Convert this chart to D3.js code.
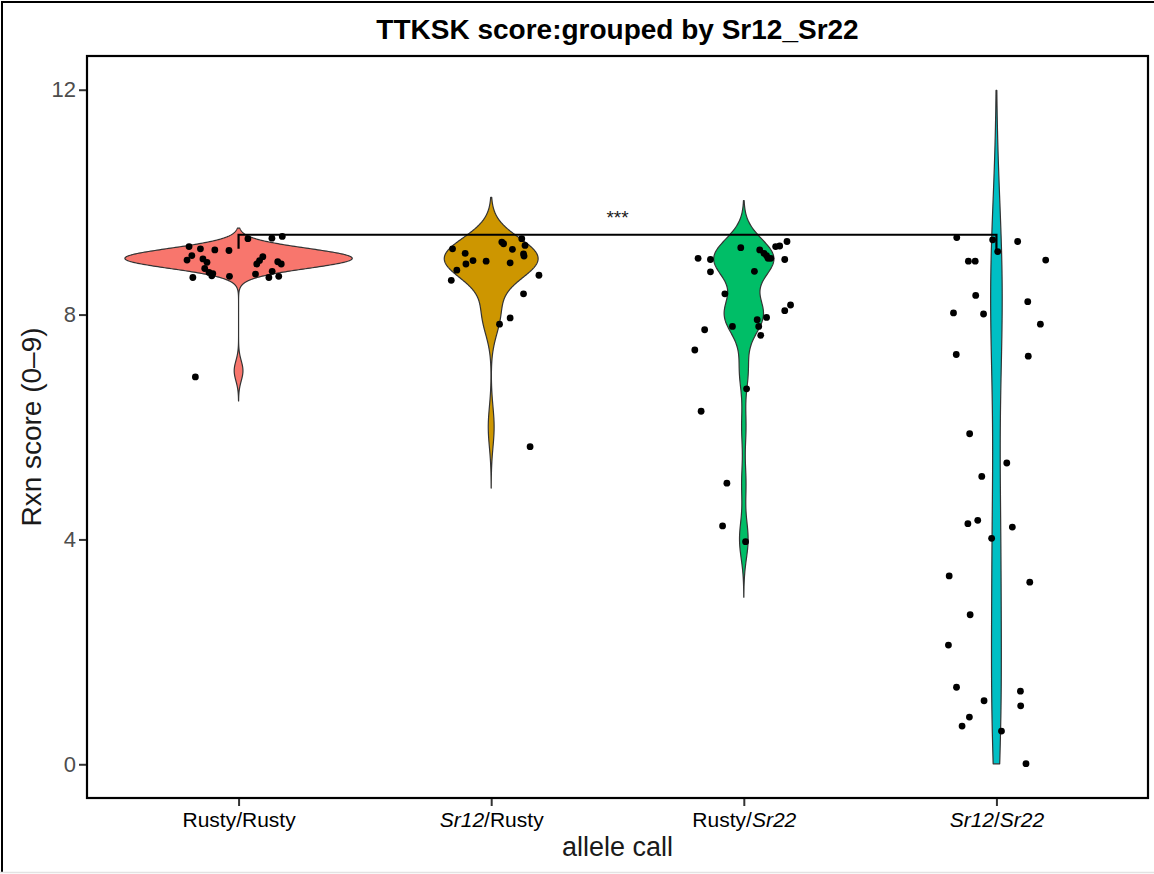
<!DOCTYPE html>
<html>
<head>
<meta charset="utf-8">
<script src="https://cdn.jsdelivr.net/npm/d3@7"></script>
<style>
  html, body { margin: 0; padding: 0; background: #ffffff; }
  svg { display: block; }
  text { font-family: "Liberation Sans", Arial, Helvetica, sans-serif; }
</style>
</head>
<body>
<svg id="chart" width="1154" height="874"></svg>
<script>
// ---- data -------------------------------------------------------------
const categories = ["Rusty/Rusty", "Sr12/Rusty", "Rusty/Sr22", "Sr12/Sr22"];

// tick label pieces: [text, italic]
const tickLabelParts = [
  [["Rusty/Rusty", false]],
  [["Sr12", true], ["/Rusty", false]],
  [["Rusty/", false], ["Sr22", true]],
  [["Sr12", true], ["/", false], ["Sr22", true]]
];

const fillColors = ["#F8766D", "#CD9600", "#00BE67", "#00BFC4"];

// reaction scores (0-9 scale) per allele call
const scoresRustyRusty = [9,9,9,9,9,9,9,9,9,9,9,9,9,9,9,9,9,9,9,9,9,9,9,9,9,9,7];
const scoresSr12Rusty  = [9,9,9,9,9,9,9,9,9,9,9,9,9,9,9,9,8,8,8,6];
const scoresRustySr22  = [9,9,9,9,9,9,9,9,9,9,9,9,9,9,8,8,8,8,8,8,8,8,8,7,7,6,5,4,4];
const scoresSr12Sr22   = [9,9,9,9,9,9,9,8,8,8,8,8,7,7,6,5,5,4,4,4,4,3,3,3,2,1,1,1,1,1,1,1,0];

// jittered observations: [horizontal offset in category units, score]
const jitterRustyRusty = [
  [-0.196,9.21],[-0.151,9.17],[-0.094,9.15],[-0.038,9.14],[0.037,9.35],[0.132,9.36],
  [0.173,9.39],[-0.185,9.05],[-0.204,8.97],[-0.141,8.99],[-0.125,8.93],[-0.134,8.82],
  [-0.117,8.75],[-0.102,8.73],[-0.106,8.69],[-0.181,8.66],[-0.036,8.68],[0.096,9.03],
  [0.083,8.96],[0.072,8.90],[0.067,8.72],[0.120,8.66],[0.133,8.77],[0.155,8.94],
  [0.169,8.90],[0.159,8.68],[-0.171,6.89]
];
const jitterSr12Rusty = [
  [-0.153,9.17],[-0.103,9.09],[-0.100,8.90],[-0.072,8.96],[-0.020,8.95],[-0.136,8.79],
  [-0.158,8.61],[0.042,9.29],[0.049,9.26],[0.084,9.16],[0.121,9.35],[0.134,9.23],
  [0.128,9.08],[0.130,9.04],[0.075,8.92],[0.189,8.70],[0.128,8.37],[0.075,7.94],
  [0.033,7.83],[0.154,5.65]
];
const jitterRustySr22 = [
  [-0.012,9.19],[0.063,9.15],[0.080,9.09],[0.090,9.05],[0.096,9.00],[0.107,9.00],
  [0.126,9.21],[0.142,9.22],[0.171,9.30],[0.162,8.98],[-0.181,9.00],[-0.132,8.98],
  [-0.132,8.76],[0.042,8.77],[-0.075,8.37],[0.185,8.17],[0.162,8.07],[0.090,7.95],
  [0.053,7.91],[0.059,7.79],[-0.045,7.79],[0.067,7.63],[-0.155,7.73],[-0.194,7.37],
  [0.011,6.68],[-0.169,6.28],[-0.067,5.00],[-0.084,4.24],[0.007,3.96]
];
const jitterSr12Sr22 = [
  [-0.157,9.37],[-0.015,9.33],[0.005,9.12],[0.084,9.30],[-0.111,8.95],[-0.084,8.95],
  [0.195,8.97],[-0.082,8.34],[-0.170,8.03],[-0.051,8.01],[0.124,8.23],[0.174,7.83],
  [-0.159,7.29],[0.126,7.26],[-0.106,5.88],[0.041,5.36],[-0.058,5.12],[-0.113,4.28],
  [-0.074,4.34],[0.063,4.22],[-0.019,4.02],[-0.187,3.35],[0.132,3.24],[-0.104,2.66],
  [-0.190,2.12],[-0.158,1.37],[0.095,1.30],[-0.049,1.13],[0.096,1.04],[-0.107,0.84],
  [-0.136,0.68],[0.020,0.59],[0.117,0.01]
];

const yTicks = [0, 4, 8, 12];
const scoreLimits = [0, 12];

// significance bracket between the two homozygous classes
const signifPair = ["Rusty/Rusty", "Sr12/Sr22"];
const signifY = 9.42;
const signifTipEnds = [9.17, 9.10];
const signifLabel = "***";

const titleText = "TTKSK score:grouped by Sr12_Sr22";
const xTitle = "allele call";
const yTitle = "Rxn score (0\u20139)";

// ---- layout -----------------------------------------------------------
const W = 1154, H = 874;
const panel = { left: 87, right: 1148, top: 56, bottom: 798 };

const svg = d3.select("#chart");

const xScale = d3.scalePoint()
  .domain(categories)
  .range([panel.left, panel.right])
  .padding(0.6);

const yScale = d3.scaleLinear()
  .domain([scoreLimits[0] - 0.6, scoreLimits[1] + 0.6])
  .range([panel.bottom, panel.top]);

const step = xScale.step();

// ---- kernel density (gaussian, nrd0 bandwidth, untrimmed) -------------
function bwNrd0(x) {
  const hi = d3.deviation(x);
  const s = x.slice().sort(d3.ascending);
  const iqr = d3.quantileSorted(s, 0.75) - d3.quantileSorted(s, 0.25);
  let lo = Math.min(hi, iqr / 1.34);
  if (!lo) lo = hi || Math.abs(x[0]) || 1;
  return 0.9 * lo * Math.pow(x.length, -0.2);
}

function densityProfile(x) {
  const bw = bwNrd0(x);
  const lo = d3.min(x) - 3 * bw, hi = d3.max(x) + 3 * bw;
  const n = 512;
  const out = [];
  const norm = 1 / (x.length * bw * Math.sqrt(2 * Math.PI));
  for (let i = 0; i < n; i++) {
    const y = lo + (hi - lo) * i / (n - 1);
    let s = 0;
    for (const v of x) { const z = (y - v) / bw; s += Math.exp(-0.5 * z * z); }
    out.push({ y, d: s * norm });
  }
  // values outside the score scale limits are dropped
  return out.filter(p => p.y >= scoreLimits[0] && p.y <= scoreLimits[1]);
}

const groups = [
  { cat: categories[0], scores: scoresRustyRusty, pts: jitterRustyRusty, fill: fillColors[0] },
  { cat: categories[1], scores: scoresSr12Rusty,  pts: jitterSr12Rusty,  fill: fillColors[1] },
  { cat: categories[2], scores: scoresRustySr22,  pts: jitterRustySr22,  fill: fillColors[2] },
  { cat: categories[3], scores: scoresSr12Sr22,   pts: jitterSr12Sr22,   fill: fillColors[3] }
];
groups.forEach(g => { g.profile = densityProfile(g.scores); });
const maxDensity = d3.max(groups, g => d3.max(g.profile, p => p.d));
const halfWidth = d3.scaleLinear().domain([0, maxDensity]).range([0, 0.45 * step]);

// ---- outer frame ------------------------------------------------------
svg.append("rect").attr("x", 0).attr("y", 0).attr("width", W).attr("height", H).attr("fill", "#ffffff");
svg.append("line").attr("x1", 2).attr("x2", 2).attr("y1", 1).attr("y2", H - 2)
  .attr("stroke", "#000").attr("stroke-width", 2);
svg.append("line").attr("x1", 1).attr("x2", W).attr("y1", 2).attr("y2", 2)
  .attr("stroke", "#000").attr("stroke-width", 2);
svg.append("line").attr("x1", 0).attr("x2", W).attr("y1", H - 1.5).attr("y2", H - 1.5)
  .attr("stroke", "#e3e3e3").attr("stroke-width", 1.5);

// ---- violins ----------------------------------------------------------
const gV = svg.append("g");
groups.forEach(g => {
  const cx = xScale(g.cat);
  const a = d3.area()
    .y(p => yScale(p.y))
    .x0(p => cx - halfWidth(p.d))
    .x1(p => cx + halfWidth(p.d));
  gV.append("path")
    .attr("d", a(g.profile))
    .attr("fill", g.fill)
    .attr("stroke", "#333333")
    .attr("stroke-width", 1.2)
    .attr("stroke-linejoin", "round");
});

// ---- jittered points --------------------------------------------------
const gP = svg.append("g");
groups.forEach(g => {
  const cx = xScale(g.cat);
  gP.selectAll(null).data(g.pts).enter().append("circle")
    .attr("cx", d => cx + d[0] * step)
    .attr("cy", d => yScale(d[1]))
    .attr("r", 3.4)
    .attr("fill", "#000");
});

// ---- significance bracket ---------------------------------------------
const bx1 = xScale(signifPair[0]), bx2 = xScale(signifPair[1]);
svg.append("path")
  .attr("d", `M${bx1},${yScale(signifTipEnds[0])}V${yScale(signifY)}H${bx2}V${yScale(signifTipEnds[1])}`)
  .attr("fill", "none").attr("stroke", "#000").attr("stroke-width", 2.2);
svg.append("text")
  .attr("x", (bx1 + bx2) / 2)
  .attr("y", yScale(signifY) - 11)
  .attr("text-anchor", "middle")
  .attr("font-size", 19)
  .attr("fill", "#1a1a1a")
  .text(signifLabel);

// ---- panel border -----------------------------------------------------
svg.append("rect")
  .attr("x", panel.left).attr("y", panel.top)
  .attr("width", panel.right - panel.left).attr("height", panel.bottom - panel.top)
  .attr("fill", "none").attr("stroke", "#000").attr("stroke-width", 2.2);

// ---- axes -------------------------------------------------------------
const yAxis = svg.append("g")
  .attr("transform", `translate(${panel.left - 1},0)`)
  .call(d3.axisLeft(yScale).tickValues(yTicks).tickSize(7).tickPadding(3).tickFormat(d3.format("d")));
yAxis.select(".domain").remove();
yAxis.selectAll(".tick line").attr("stroke", "#333").attr("stroke-width", 2);
yAxis.selectAll(".tick text")
  .attr("font-size", 22).attr("fill", "#4d4d4d")
  .attr("font-family", "'Liberation Sans', Arial, sans-serif");

const xAxis = svg.append("g")
  .attr("transform", `translate(0,${panel.bottom + 1})`)
  .call(d3.axisBottom(xScale).tickSize(7).tickPadding(6));
xAxis.select(".domain").remove();
xAxis.selectAll(".tick line").attr("stroke", "#333").attr("stroke-width", 2);
xAxis.selectAll(".tick text")
  .attr("font-size", 21).attr("fill", "#000")
  .attr("font-family", "'Liberation Sans', Arial, sans-serif")
  .each(function (d, i) {
    const t = d3.select(this);
    t.text(null);
    tickLabelParts[i].forEach(([s, it]) => {
      t.append("tspan").attr("font-style", it ? "italic" : "normal").text(s);
    });
  });

// ---- titles -----------------------------------------------------------
const midX = (panel.left + panel.right) / 2;
svg.append("text")
  .attr("x", midX).attr("y", 39)
  .attr("text-anchor", "middle")
  .attr("font-size", 28).attr("font-weight", "bold").attr("fill", "#000")
  .text(titleText);

svg.append("text")
  .attr("x", midX).attr("y", 856)
  .attr("text-anchor", "middle")
  .attr("font-size", 27).attr("fill", "#1a1a1a")
  .text(xTitle);

svg.append("text")
  .attr("transform", `translate(41,${(panel.top + panel.bottom) / 2}) rotate(-90)`)
  .attr("text-anchor", "middle")
  .attr("font-size", 28).attr("fill", "#1a1a1a")
  .text(yTitle);
</script>
</body>
</html>
